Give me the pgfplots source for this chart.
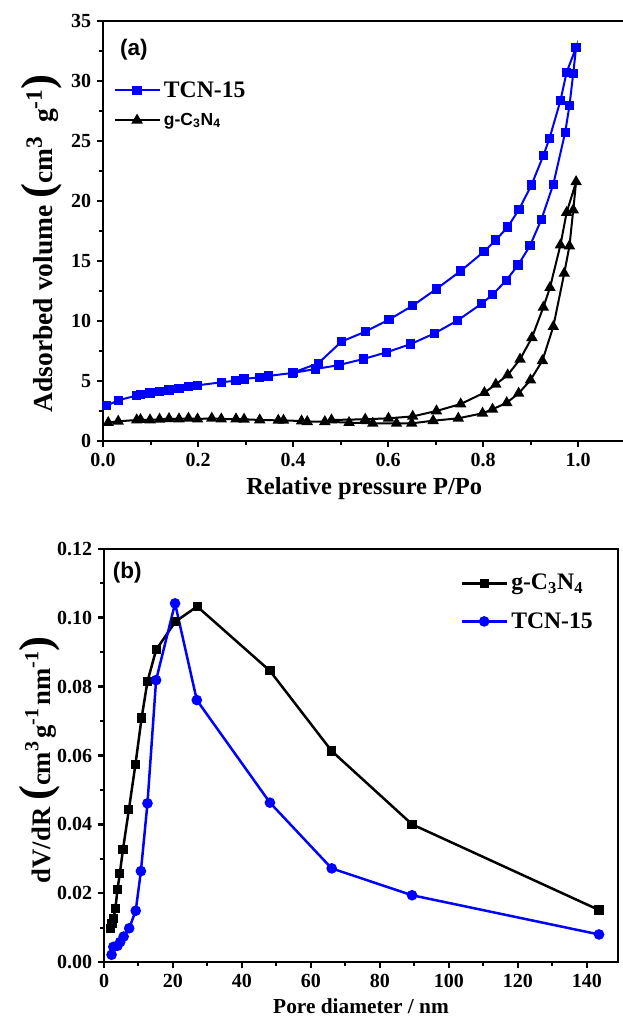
\documentclass[border=0pt]{standalone}
\usepackage{pgfplots}
\pgfplotsset{compat=1.18}
\usepackage{fontspec}
\setmainfont{Liberation Serif}
\newfontfamily\arial{Liberation Sans}
\definecolor{pblue}{RGB}{0,0,255}
\newcommand{\bigp}[1]{{\fontsize{27}{27}\selectfont #1}}
\newcommand{\supx}[1]{\raisebox{0.85ex}{\scalebox{0.85}{#1}}}
\newcommand{\supr}[1]{\raisebox{1.0ex}{\scalebox{0.75}{#1}}}
\pgfplotsset{
  myaxis/.style={
    scale only axis,
    axis line style={line width=1.6pt},
    tick align=outside,
    xtick pos=left, ytick pos=left,
    major tick length=3.6pt, minor tick length=2.2pt,
    every major tick/.append style={line width=1.6pt, black},
    every minor tick/.append style={line width=1.2pt, black},
    tick label style={font=\fontsize{12}{12}\selectfont\bfseries},
    /pgf/number format/assume math mode=true,
    legend cell align=left,
    legend style={draw=none, fill=none},
    clip=false,
  },
  legend image code/.code={\draw[mark repeat=2,mark phase=2,#1] plot coordinates {(0cm,0cm) (0.475cm,0cm) (0.95cm,0cm)};},
}
\begin{document}
\begin{tikzpicture}
\path[use as bounding box] (0,0) rectangle (373.8pt,612.6pt);
% ---------------- (a)
\begin{axis}[myaxis,
  at={(61.8pt,348pt)}, anchor=south west,
  width=313.5pt, height=252pt,
  xmin=0, xmax=1.1, ymin=0, ymax=35,
  xtick={0,0.2,0.4,0.6,0.8,1.0},
  minor xtick={0.1,0.3,0.5,0.7,0.9},
  ytick={0,5,10,15,20,25,30,35},
  minor ytick={2.5,7.5,12.5,17.5,22.5,27.5,32.5},
  xticklabel style={/pgf/number format/.cd,fixed,fixed zerofill,precision=1},
  xlabel={Relative pressure P/Po},
  xlabel style={font=\fontsize{14.7}{16}\selectfont\bfseries},
  ylabel={Adsorbed volume \bigp{(}cm\supx{3}\ \ g\supx{-1}\bigp{)}},
  ylabel style={at={(axis description cs:-0.117,0.47)}, anchor=center, font=\fontsize{16.5}{18}\selectfont\bfseries},
  legend style={at={(axis description cs:0.01,0.873)}, anchor=north west, row sep=4pt},
]
\addplot[pblue, line width=1.2pt, mark=square*, mark size=2.2pt, mark options={solid}] coordinates {
(0.008,2.94) (0.032,3.39) (0.070,3.78) (0.079,3.89) (0.099,4.00) (0.119,4.11)
(0.139,4.25) (0.160,4.39) (0.180,4.56) (0.199,4.64) (0.249,4.89) (0.280,5.03)
(0.297,5.17) (0.330,5.31) (0.348,5.42) (0.399,5.67) (0.448,6.00) (0.497,6.33)
(0.548,6.83) (0.597,7.39) (0.648,8.08) (0.698,8.97) (0.747,10.06) (0.797,11.44)
(0.820,12.19) (0.849,13.39) (0.874,14.67) (0.899,16.28) (0.923,18.47) (0.948,21.39)
(0.973,25.72) (0.982,27.94) (0.990,30.64) (0.996,32.80)
(0.976,30.72) (0.963,28.36) (0.940,25.22) (0.927,23.78) (0.902,21.33) (0.876,19.31)
(0.852,17.83) (0.827,16.75) (0.802,15.78) (0.753,14.17) (0.702,12.67) (0.652,11.28)
(0.602,10.11) (0.552,9.11) (0.502,8.28) (0.453,6.47) (0.400,5.70)
};
\addlegendentry{\fontsize{14.2}{15}\selectfont\bfseries TCN-15}
\addplot[black, line width=1.2pt, mark=triangle*, mark size=2.8pt, mark options={solid}] coordinates {
(0.011,1.53) (0.032,1.64) (0.071,1.75) (0.079,1.78) (0.099,1.75) (0.119,1.81)
(0.139,1.86) (0.160,1.83) (0.180,1.89) (0.199,1.83) (0.229,1.89) (0.249,1.83)
(0.280,1.83) (0.297,1.81) (0.330,1.75) (0.369,1.72) (0.380,1.72) (0.418,1.66)
(0.430,1.61) (0.467,1.61) (0.518,1.53) (0.568,1.47) (0.618,1.47) (0.650,1.47)
(0.695,1.69) (0.748,1.89) (0.799,2.31) (0.820,2.64) (0.850,3.19) (0.875,3.97)
(0.900,5.08) (0.925,6.69) (0.948,9.53) (0.971,13.97) (0.982,16.25) (0.990,19.25)
(0.996,21.60)
(0.976,19.03) (0.963,16.33) (0.941,12.78) (0.927,11.14) (0.903,8.61) (0.878,6.81)
(0.852,5.50) (0.827,4.72) (0.803,4.03) (0.753,3.08) (0.702,2.50) (0.652,2.05)
(0.601,1.89) (0.552,1.81) (0.481,1.75)
};
\addlegendentry{\arial\fontsize{10.5}{12}\selectfont\bfseries g-C\textsubscript{3}N\textsubscript{4}}
\node[font=\arial\fontsize{13.5}{14}\selectfont\bfseries] at (axis description cs:0.059,0.932) {(a)};
\end{axis}
% ---------------- (b)
\begin{axis}[myaxis,
  at={(62.4pt,35.4pt)}, anchor=south west,
  width=308.4pt, height=247.8pt,
  xmin=0, xmax=149, ymin=0, ymax=0.12,
  xtick={0,20,40,60,80,100,120,140},
  minor xtick={10,30,50,70,90,110,130},
  ytick={0,0.02,0.04,0.06,0.08,0.10,0.12},
  minor ytick={0.01,0.03,0.05,0.07,0.09,0.11},
  yticklabel style={/pgf/number format/.cd,fixed,fixed zerofill,precision=2},
  scaled y ticks=false,
  xlabel={Pore diameter / nm},
  xlabel style={font=\fontsize{12.8}{14}\selectfont\bfseries},
  ylabel={dV/dR \bigp{(}cm\supr{3}\hspace{0.12em}g\supr{-1}\hspace{0.12em}nm\supr{-1}\bigp{)}},
  ylabel style={at={(axis description cs:-0.125,0.489)}, anchor=center, font=\fontsize{16}{17}\selectfont\bfseries},
  legend style={at={(axis description cs:0.683,0.956)}, anchor=north west, row sep=8pt},
]
\addplot[black, line width=1.5pt, mark=square*, mark size=2pt, mark options={solid}] coordinates {
(1.8,0.0098) (2.3,0.0111) (2.8,0.0127) (3.3,0.0155) (3.9,0.0210) (4.6,0.0258)
(5.5,0.0327) (7.2,0.0442) (9.1,0.0573) (10.9,0.0709) (12.6,0.0815) (15.1,0.0907)
(20.7,0.0989) (27.0,0.1033) (48.1,0.0846) (66.0,0.0613) (89.3,0.0400) (143.5,0.0151)
};
\addlegendentry{\fontsize{14.2}{15}\selectfont\bfseries g-C\textsubscript{3}N\textsubscript{4}}
\addplot[pblue, line width=1.5pt, mark=*, mark size=2.4pt, mark options={solid}] coordinates {
(2.2,0.0021) (2.7,0.0044) (3.9,0.0047) (4.7,0.0058) (5.7,0.0074) (7.3,0.0098)
(9.2,0.0149) (10.7,0.0264) (12.6,0.0461) (15.1,0.0819) (20.6,0.1042) (26.9,0.0761)
(48.1,0.0463) (66.0,0.0272) (89.3,0.0194) (143.5,0.0080)
};
\addlegendentry{\fontsize{14.2}{15}\selectfont\bfseries TCN-15}
\node[font=\arial\fontsize{13.5}{14}\selectfont\bfseries] at (axis description cs:0.045,0.942) {(b)};
\end{axis}
\end{tikzpicture}
\end{document}
